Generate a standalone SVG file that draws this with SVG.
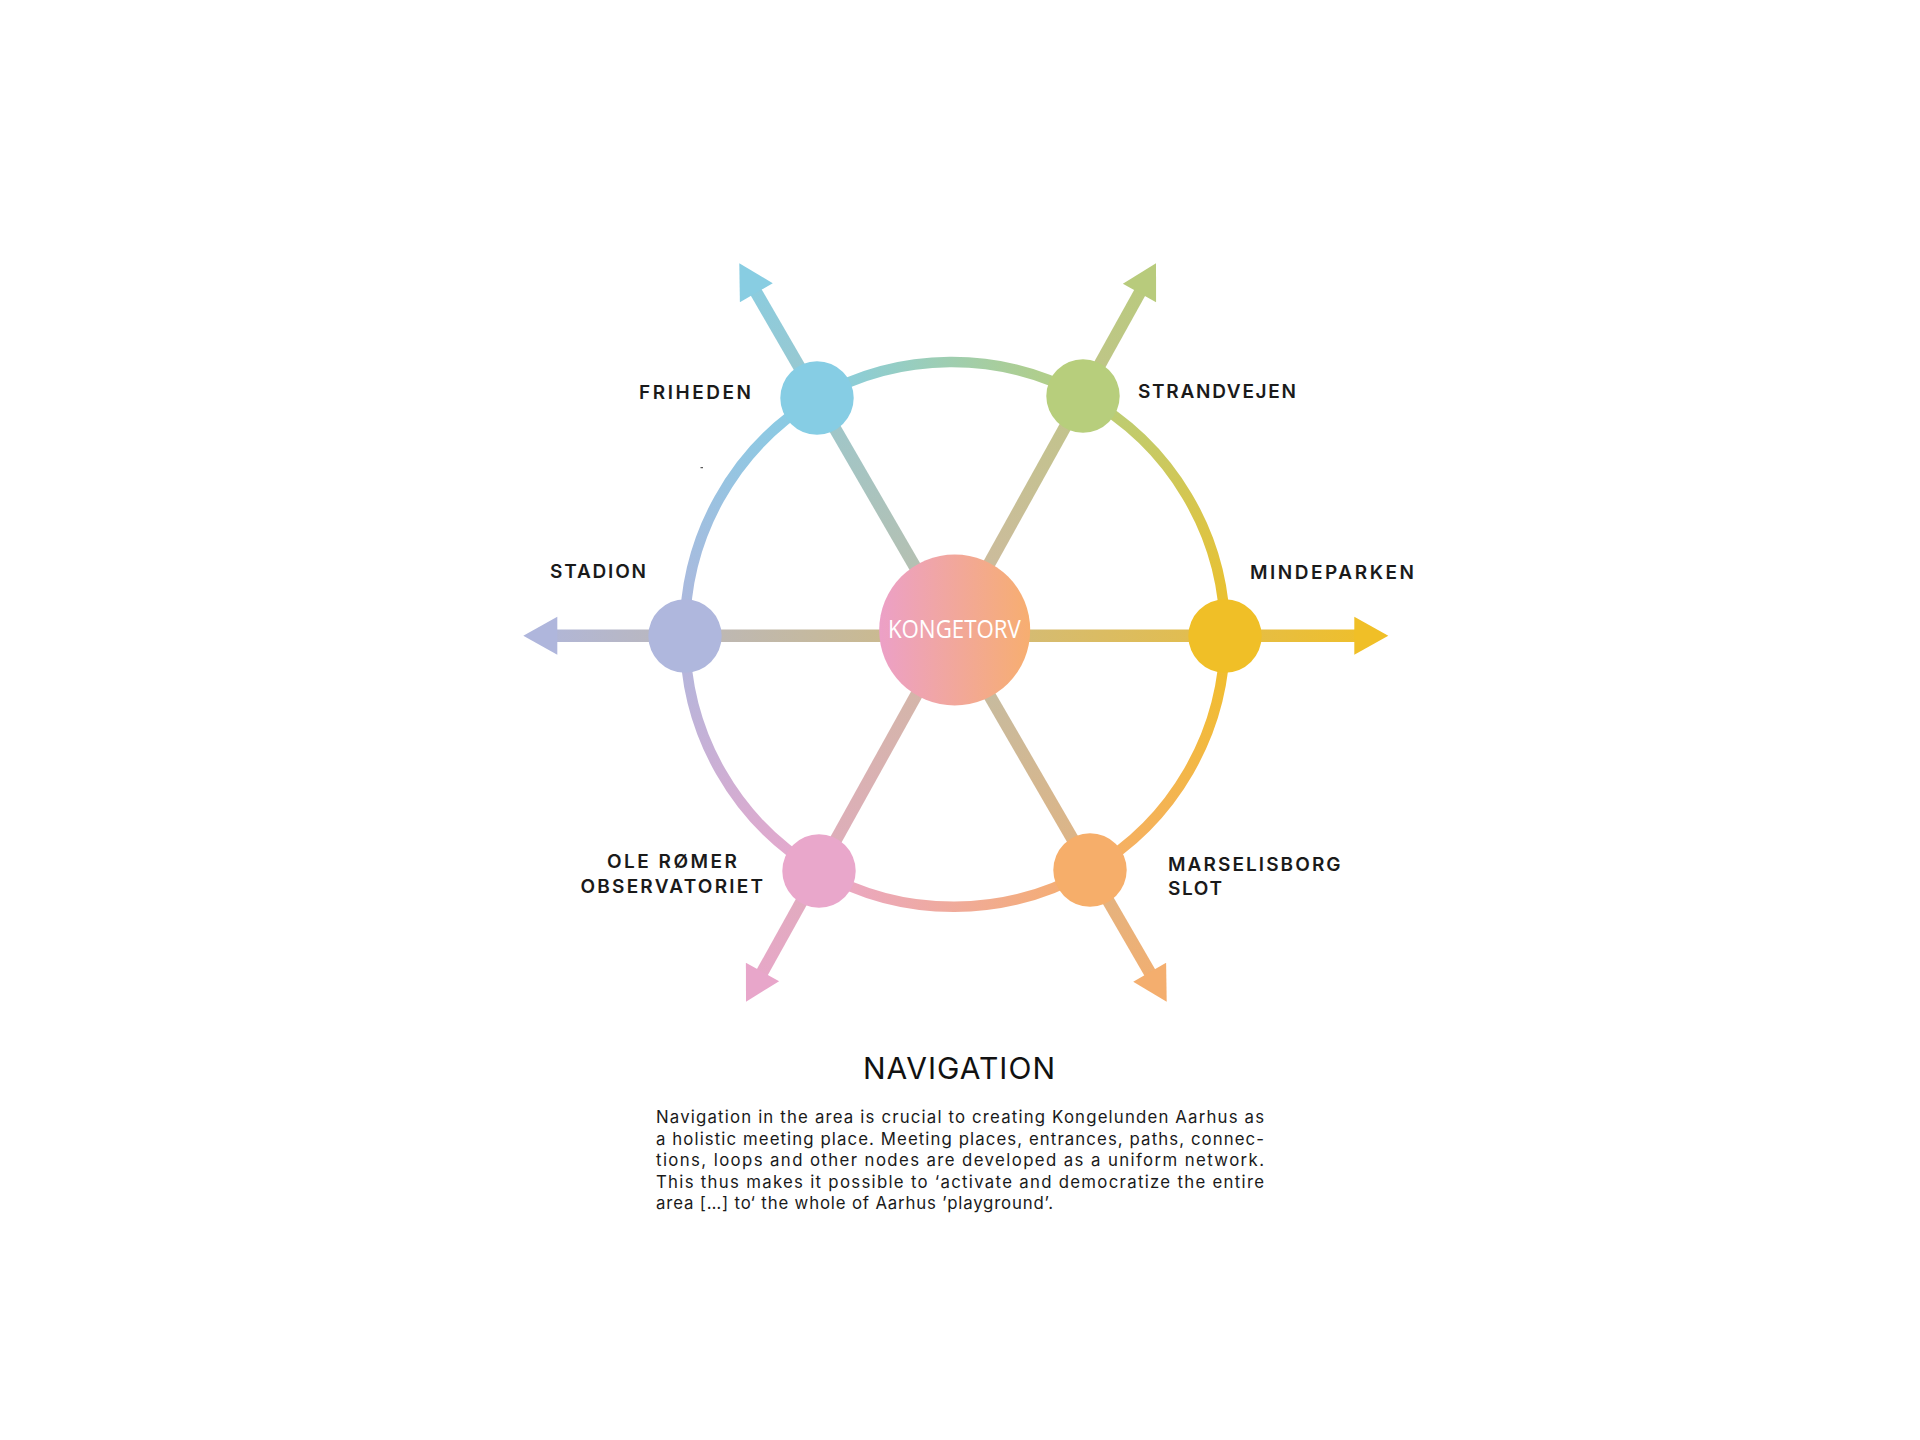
<svg xmlns="http://www.w3.org/2000/svg" xmlns:xlink="http://www.w3.org/1999/xlink" width="1920" height="1440" viewBox="0 0 1920 1440">
  <style>
    .ring { fill: none; stroke-width: 10.5; }
    .axis { fill: none; stroke-width: 12.5; stroke-linecap: butt; }
    .lbl { font-family: Inter, "Noto Sans", "Liberation Sans", sans-serif; font-size: 19px; font-weight: 600; fill: #1a1a1a; }
    .title { font-family: Inter, "Noto Sans", "Liberation Sans", sans-serif; font-size: 30px; font-weight: 400; fill: #111; }
    .para { font-family: Inter, "Noto Sans", "Liberation Sans", sans-serif; font-size: 16.8px; font-weight: 400; fill: #1a1a1a; }
    .center-txt { font-family: "Open Sans", "Liberation Sans", sans-serif; font-size: 25.5px; fill: #ffffff; }
  </style>
  <defs>
    <path id="ah" d="M0,0 L-34,-19 L-34,19 Z"/>
    <linearGradient id="gTop" gradientUnits="userSpaceOnUse" x1="817" y1="398" x2="1083" y2="396"><stop offset="0" stop-color="#86cde4"/><stop offset="1" stop-color="#b7ce7c"/></linearGradient>
    <linearGradient id="gUR" gradientUnits="userSpaceOnUse" x1="1083" y1="396" x2="1225" y2="636"><stop offset="0" stop-color="#b7ce7c"/><stop offset="1" stop-color="#f0bf27"/></linearGradient>
    <linearGradient id="gLR" gradientUnits="userSpaceOnUse" x1="1225" y1="636" x2="1090" y2="870"><stop offset="0" stop-color="#f0bf27"/><stop offset="1" stop-color="#f6ae6a"/></linearGradient>
    <linearGradient id="gBot" gradientUnits="userSpaceOnUse" x1="1090" y1="870" x2="819" y2="871"><stop offset="0" stop-color="#f6ae6a"/><stop offset="1" stop-color="#e9a7cb"/></linearGradient>
    <linearGradient id="gLL" gradientUnits="userSpaceOnUse" x1="819" y1="871" x2="685" y2="636"><stop offset="0" stop-color="#e9a7cb"/><stop offset="1" stop-color="#afb7dd"/></linearGradient>
    <linearGradient id="gUL" gradientUnits="userSpaceOnUse" x1="685" y1="636" x2="817" y2="398"><stop offset="0" stop-color="#afb7dd"/><stop offset="1" stop-color="#86cde4"/></linearGradient>
    <linearGradient id="gH" gradientUnits="userSpaceOnUse" x1="523.3" y1="635.7" x2="1388.3" y2="635.7"><stop offset="0" stop-color="#afb6dc"/><stop offset="1" stop-color="#f0bf27"/></linearGradient>
    <linearGradient id="gD1" gradientUnits="userSpaceOnUse" x1="739.3" y1="263.3" x2="1166.7" y2="1001.7"><stop offset="0" stop-color="#88cde2"/><stop offset="1" stop-color="#f4ae6e"/></linearGradient>
    <linearGradient id="gD2" gradientUnits="userSpaceOnUse" x1="1156" y1="263.3" x2="746" y2="1001.7"><stop offset="0" stop-color="#b8cb7c"/><stop offset="1" stop-color="#e8a6ca"/></linearGradient>
    <linearGradient id="gC" x1="0" y1="0" x2="1" y2="0"><stop offset="0" stop-color="#eca0c7"/><stop offset="1" stop-color="#f7ae70"/></linearGradient>
  </defs>

  <rect width="1920" height="1440" fill="#ffffff"/>

  <g id="connectors">
    <path class="ring" stroke="url(#gTop)" d="M817,398 A271,271 0 0 1 1083,396"/>
    <path class="ring" stroke="url(#gUR)" d="M1083,396 A271,271 0 0 1 1225,636"/>
    <path class="ring" stroke="url(#gLR)" d="M1225,636 A271,271 0 0 1 1090,870"/>
    <path class="ring" stroke="url(#gBot)" d="M1090,870 A271,271 0 0 1 819,871"/>
    <path class="ring" stroke="url(#gLL)" d="M819,871 A271,271 0 0 1 685,636"/>
    <path class="ring" stroke="url(#gUL)" d="M685,636 A271,271 0 0 1 817,398"/>

    <line class="axis" stroke="url(#gH)" x1="548.3" y1="635.7" x2="1363.3" y2="635.7"/>
    <line class="axis" stroke="url(#gD1)" x1="751.8" y1="284.9" x2="1154.2" y2="980.1"/>
    <line class="axis" stroke="url(#gD2)" x1="1143.9" y1="285.2" x2="758.1" y2="979.8"/>

    <use xlink:href="#ah" href="#ah" fill="#afb6dc" transform="translate(523.3,635.7) rotate(180)"/>
    <use xlink:href="#ah" href="#ah" fill="#f0bf27" transform="translate(1388.3,635.7)"/>
    <use xlink:href="#ah" href="#ah" fill="#88cde2" transform="translate(739.3,263.3) rotate(-120.06)"/>
    <use xlink:href="#ah" href="#ah" fill="#f4ae6e" transform="translate(1166.7,1001.7) rotate(59.94)"/>
    <use xlink:href="#ah" href="#ah" fill="#b8cb7c" transform="translate(1156,263.3) rotate(-60.96)"/>
    <use xlink:href="#ah" href="#ah" fill="#e8a6ca" transform="translate(746,1001.7) rotate(119.04)"/>
  </g>

  <g id="node-friheden">
    <circle cx="817" cy="398" r="36.7" fill="#86cde4"/>
    <text class="lbl" x="639" y="399" textLength="112" lengthAdjust="spacing">FRIHEDEN</text>
  </g>
  <g id="node-strandvejen">
    <circle cx="1083" cy="396" r="36.7" fill="#b7ce7c"/>
    <text class="lbl" x="1138" y="398" textLength="158" lengthAdjust="spacing">STRANDVEJEN</text>
  </g>
  <g id="node-stadion">
    <circle cx="685" cy="636" r="36.7" fill="#afb7dd"/>
    <text class="lbl" x="550" y="578" textLength="96" lengthAdjust="spacing">STADION</text>
  </g>
  <g id="node-mindeparken">
    <circle cx="1225" cy="636" r="36.7" fill="#f0bf27"/>
    <text class="lbl" x="1250" y="579" textLength="164" lengthAdjust="spacing">MINDEPARKEN</text>
  </g>
  <g id="node-ole-romer">
    <circle cx="819" cy="871" r="36.7" fill="#e9a7cb"/>
    <text class="lbl" x="607" y="868" textLength="130" lengthAdjust="spacing">OLE RØMER</text>
    <text class="lbl" x="580.5" y="893" textLength="182.5" lengthAdjust="spacing">OBSERVATORIET</text>
  </g>
  <g id="node-marselisborg">
    <circle cx="1090" cy="870" r="36.7" fill="#f6ae6a"/>
    <text class="lbl" x="1168" y="870.5" textLength="172.6" lengthAdjust="spacing">MARSELISBORG</text>
    <text class="lbl" x="1168" y="895" textLength="54" lengthAdjust="spacing">SLOT</text>
  </g>
  <g id="node-kongetorv">
    <circle cx="954.7" cy="630" r="75.5" fill="url(#gC)"/>
    <text class="center-txt" x="954.4" y="638.3" text-anchor="middle" textLength="133" lengthAdjust="spacingAndGlyphs">KONGETORV</text>
  </g>

  <rect x="700.5" y="467.2" width="2.5" height="1" fill="#333"/>

  <g id="caption">
    <text class="title" x="863" y="1078.5" textLength="192" lengthAdjust="spacing">NAVIGATION</text>
    <text class="para" x="656" y="1123" textLength="608" lengthAdjust="spacing">Navigation in the area is crucial to creating Kongelunden Aarhus as</text>
    <text class="para" x="656" y="1144.5" textLength="608" lengthAdjust="spacing">a holistic meeting place. Meeting places, entrances, paths, connec-</text>
    <text class="para" x="656" y="1166" textLength="608" lengthAdjust="spacing">tions, loops and other nodes are developed as a uniform network.</text>
    <text class="para" x="656" y="1187.5" textLength="608" lengthAdjust="spacing">This thus makes it possible to ‘activate and democratize the entire</text>
    <text class="para" x="656" y="1209" textLength="397" lengthAdjust="spacing">area […] to‘ the whole of Aarhus ’playground’.</text>
  </g>
</svg>
